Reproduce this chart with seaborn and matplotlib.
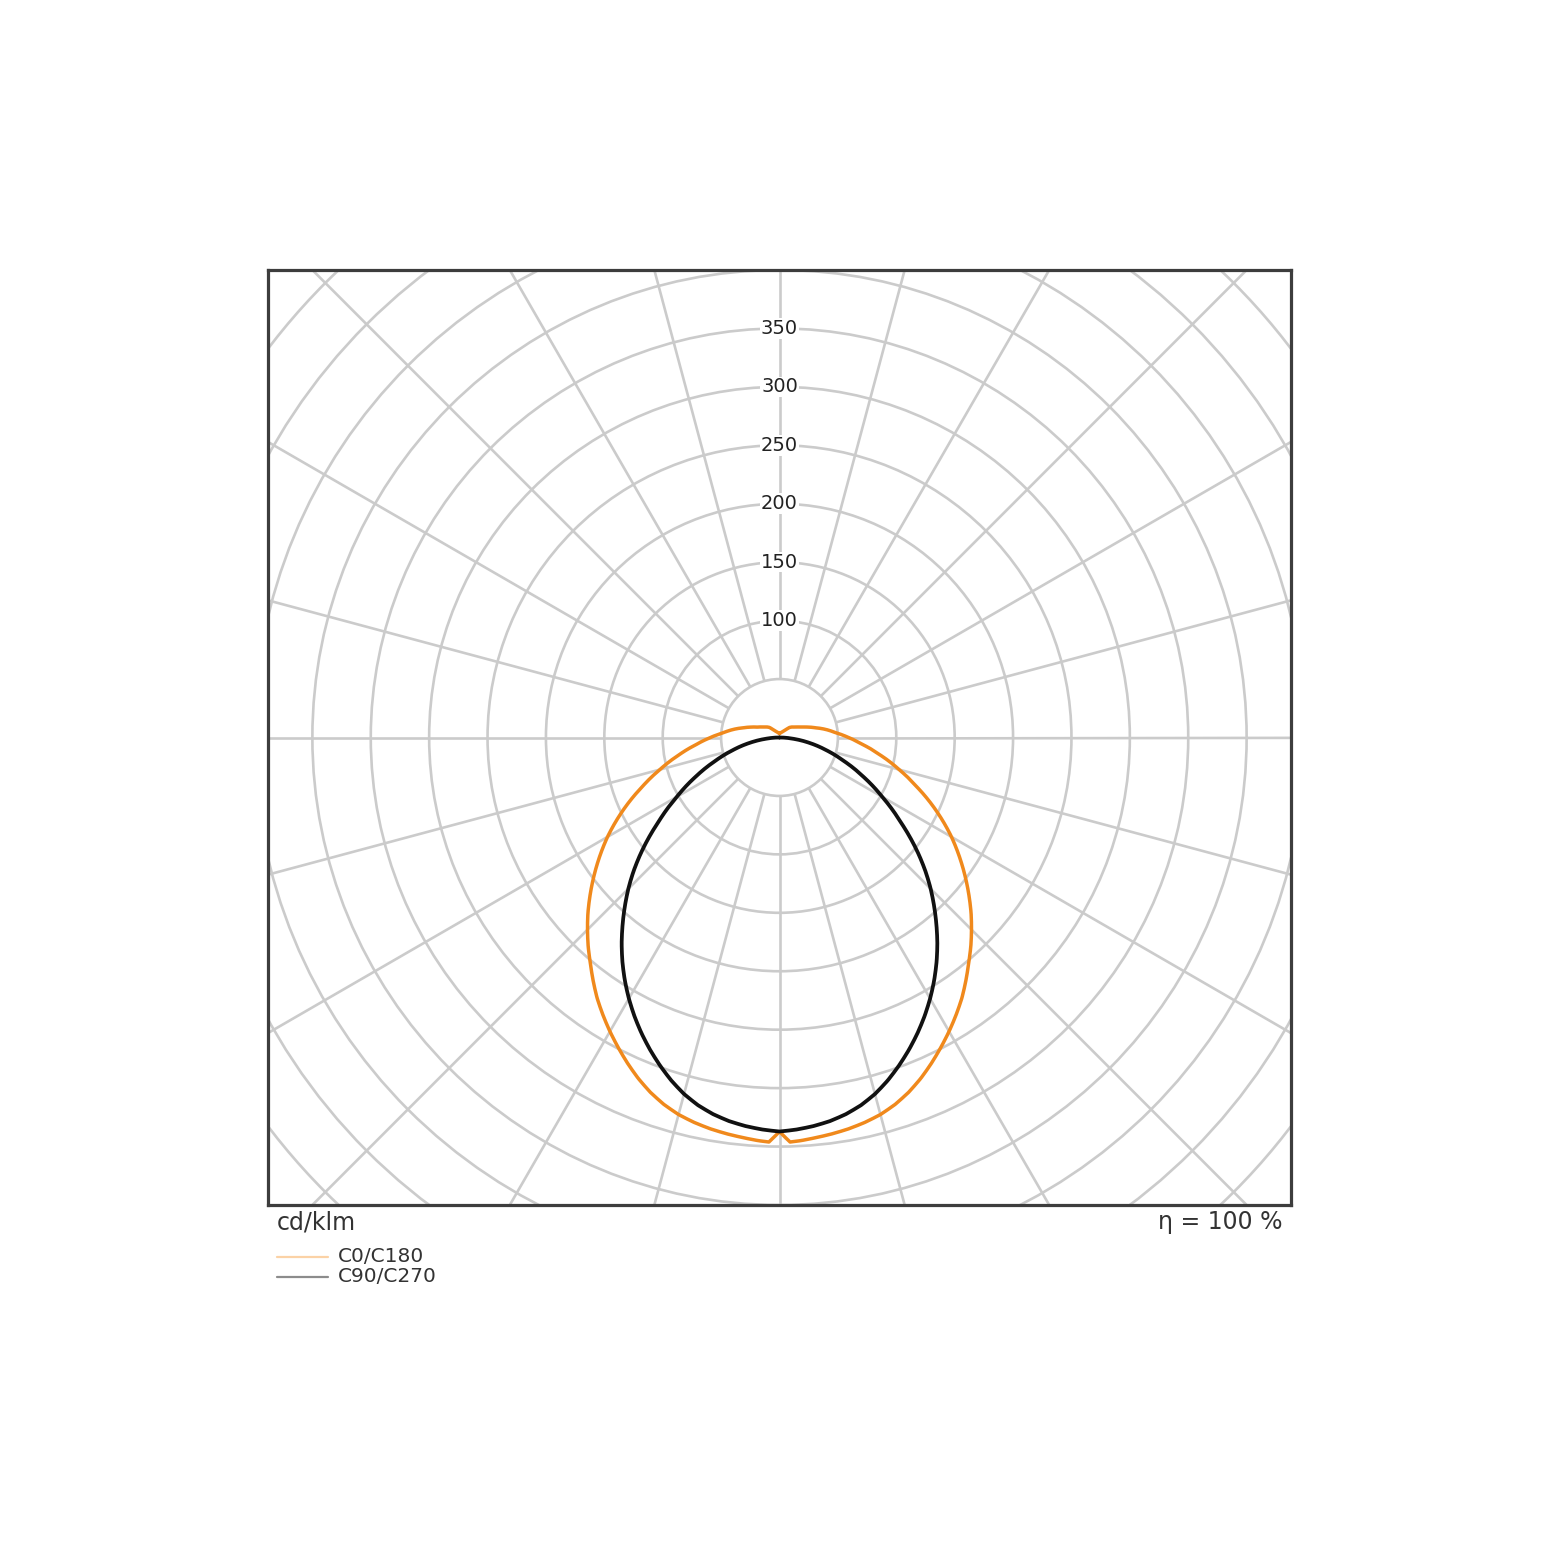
import numpy as np
import pandas as pd
import matplotlib
matplotlib.use("Agg")
import matplotlib.pyplot as plt
from matplotlib.patches import Circle
from matplotlib.lines import Line2D
import seaborn as sns

# ---- data (cd/klm versus gamma angle, 0 = straight down) ----
gamma_c0 = [0, 1.5, 3, 5, 7.5, 10, 12.5, 15, 17.5, 20, 22.5, 25, 27.5, 30, 32.5, 35,
            37.5, 40, 42.5, 45, 47.5, 50, 55, 60, 65, 70, 75, 80, 85, 90, 95, 100,
            105, 110, 115, 120, 125, 130, 135, 140, 145, 150, 155, 160, 165, 170,
            175, 180]
intensity_c0 = [337.5, 346.5, 345.7, 344.2, 342.4, 340.3, 337.6, 334.2, 329.4, 323.3,
                316, 307.8, 299.2, 290.5, 281.5, 272.3, 262.2, 252, 242.5, 232.5, 222.5,
                212, 191, 170, 148, 126, 106, 88, 72, 59, 48, 40, 32, 26, 21, 18, 15.5,
                14, 12.2, 9.0, 7.2, 6.0, 5.2, 4.7, 4.2, 3.9, 3.6, 3.4]

gamma_c90 = [0, 2.5, 5, 7.5, 10, 12.5, 15, 17.5, 20, 22.5, 25, 27.5, 30, 32.5, 35,
             37.5, 40, 42.5, 45, 47.5, 50, 55, 60, 65, 70, 75, 80, 85, 90]
intensity_c90 = [337.4, 336, 334, 331.3, 327.5, 322.5, 316, 308, 299, 289.5, 279.5,
                 269, 258, 246.5, 234.5, 222, 209, 196, 183, 169.5, 155.5, 127, 101.5,
                 79, 58.5, 41, 25.5, 11, 0]

series_names = ["C0/C180", "C90/C270"]
series_colors = ["#f0891c", "#111111"]
legend_colors = ["#fbd2a6", "#8c8c8c"]
ring_values = [50, 100, 150, 200, 250, 300, 350, 400, 450, 500, 550, 600]
ring_labels = [100, 150, 200, 250, 300, 350]
unit_label = "cd/klm"
efficiency_label = "η = 100 %"


def to_frame(name, gammas, values):
    g = np.radians(np.asarray(gammas, dtype=float))
    v = np.asarray(values, dtype=float)
    # left half (C180 / C270) from top to bottom, then right half (C0 / C90)
    theta = np.concatenate([-g[::-1], g])
    r = np.concatenate([v[::-1], v])
    return pd.DataFrame({"theta": theta, "r": r, "series": name})


df = pd.concat([to_frame(series_names[0], gamma_c0, intensity_c0),
                to_frame(series_names[1], gamma_c90, intensity_c90)], ignore_index=True)

sns.set_theme(style="white")
plt.rcParams["font.family"] = ["DejaVu Sans"]

W, H = 1560, 1561
fig = plt.figure(figsize=(W / 100, H / 100), dpi=100)
ax = fig.add_axes([268 / W, (H - 1205) / H, 1023 / W, 935 / H])
ax.set_xlim(-438, 438)
ax.set_ylim(-400, 400)

grid_col = "#cbcbcb"
grid_lw = 1.9
for r in ring_values:
    ax.add_patch(Circle((0, 0), r, fill=False, edgecolor=grid_col, linewidth=grid_lw, zorder=1))
for ang in range(0, 360, 15):
    t = np.radians(ang)
    ax.plot([50 * np.sin(t), 800 * np.sin(t)], [50 * np.cos(t), 800 * np.cos(t)],
            color=grid_col, linewidth=grid_lw, zorder=1, solid_capstyle="butt")

for r in ring_labels:
    ax.text(0, r, str(r), ha="center", va="center", fontsize=14, color="#222222",
            zorder=2, bbox=dict(facecolor="white", edgecolor="none", pad=0.6))

ax.set_xlabel("")
ax.set_ylabel("")
ax.set_xticks([])
ax.set_yticks([])
for s in ax.spines.values():
    s.set_visible(True)
    s.set_color("#3d3d3d")
    s.set_linewidth(2.3)

# polar overlay sharing the same centre and scale as the frame
px_per_unit = 1023 / 876
rmax = 500
side = 2 * rmax * px_per_unit
cx = 268 + 1023 / 2
cy = (H - 1205) + 935 / 2
axp = fig.add_axes([(cx - side / 2) / W, (cy - side / 2) / H, side / W, side / H],
                   projection="polar")
axp.set_theta_zero_location("S")
axp.set_theta_direction(1)
axp.set_rlim(0, rmax)
axp.set_axis_off()
axp.patch.set_alpha(0)

d0 = df[df["series"] == series_names[0]]
d1 = df[df["series"] == series_names[1]]
sns.lineplot(data=d0, x="theta", y="r", sort=False, estimator=None, color=series_colors[0],
             linewidth=2.5, ax=axp, zorder=3)
sns.lineplot(data=d1, x="theta", y="r", sort=False, estimator=None, color=series_colors[1],
             linewidth=2.7, ax=axp, zorder=4)
# draw the curves as arcs in polar space between the measured angles
for ln in axp.lines:
    ln.get_path()._interpolation_steps = 24
    ln.set_solid_joinstyle("round")

# labels below the frame
ylab = (H - 1222) / H
fig.text(277 / W, ylab, unit_label, ha="left", va="center", fontsize=17, color="#333333")
fig.text(1282 / W, ylab, efficiency_label, ha="right", va="center", fontsize=17, color="#333333")

# legend
for i, (name, col) in enumerate(zip(series_names, legend_colors)):
    yy = (H - (1257 + 20 * i)) / H
    fig.add_artist(Line2D([277 / W, 328 / W], [yy, yy], color=col, linewidth=1.6,
                          transform=fig.transFigure))
    fig.text(338 / W, yy, name, ha="left", va="center", fontsize=14.5, color="#333333")

fig.savefig("out.png", dpi=100, facecolor="white")
